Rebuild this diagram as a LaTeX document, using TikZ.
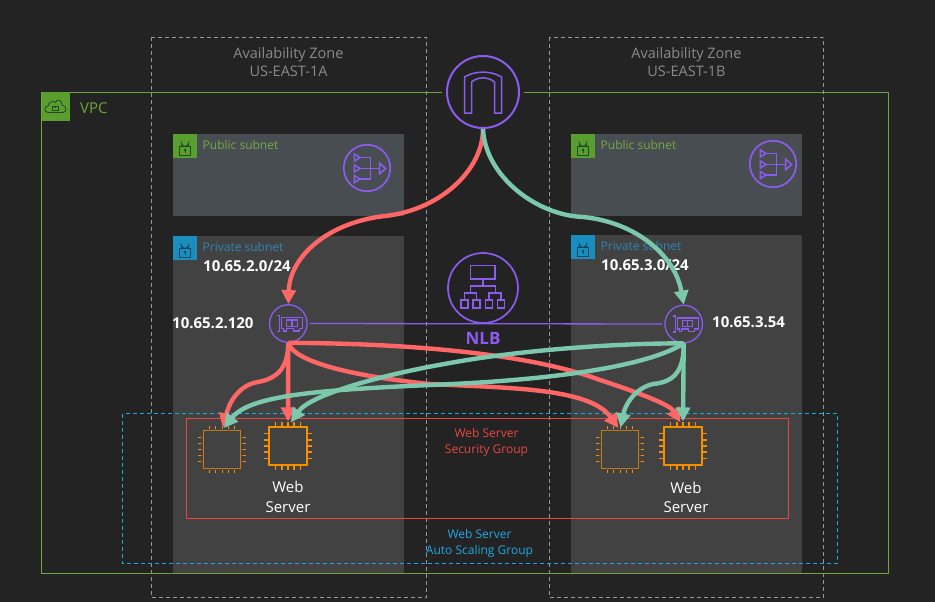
\documentclass[tikz,border=0pt]{standalone}
\usepackage{fontspec}
\setmainfont{Open Sans}
\usetikzlibrary{arrows.meta}

\definecolor{bgdark}{HTML}{232323}
\definecolor{publicfill}{HTML}{474D50}
\definecolor{privatefill}{HTML}{424242}
\definecolor{zonegrey}{HTML}{8A8A8A}
\definecolor{vpcgreen}{HTML}{6EA63C}
\definecolor{badgegreen}{HTML}{5A9E2F}
\definecolor{lockgreen}{HTML}{1F4A24}
\definecolor{publictext}{HTML}{7AA845}
\definecolor{badgeblue}{HTML}{1A8FBF}
\definecolor{lockblue}{HTML}{0E4660}
\definecolor{privatetext}{HTML}{2F86B5}
\definecolor{iconpurple}{HTML}{8C5CF0}
\definecolor{chiporange}{HTML}{F58F00}
\definecolor{chippurple}{HTML}{5A5A94}
\definecolor{sgred}{HTML}{E8473F}
\definecolor{asgblue}{HTML}{1FA9E4}
\definecolor{flowred}{HTML}{FF6666}
\definecolor{flowgreen}{HTML}{7CC8AC}

\tikzset{
  zonebox/.style = {draw = zonegrey!90!white, dashed, line width = .7pt, dash pattern = on 4pt off 3pt},
  ring/.style = {circle, draw = iconpurple, line width = 1.7pt, inner sep = 0, fill = none},
  iconline/.style = {draw = iconpurple, line width = 1.5pt, line join = miter},
  chipbox/.style = {rectangle, draw = chiporange, inner sep = 0, minimum size = 37.4pt},
  flow/.style = {line width = 4.4pt, -{Triangle[length = 14pt, width = 14pt]}, shorten > = 5pt},
  redflow/.style = {flow, draw = flowred, color = flowred},
  greenflow/.style = {flow, draw = flowgreen, color = flowgreen},
  iplabel/.style = {white, font = \fontsize{15}{18}\selectfont\bfseries, inner sep = 0},
  pics/padlock/.style = {code = {
    \draw[#1, line width = .8pt] (-5.5, 2.5) rectangle (5.5, 11);
    \draw[#1, line width = .8pt] (-3.8, 2.5) -- (-3.8, -1.5) arc [start angle = 180, end angle = 0, radius = 3.8] -- (3.8, 2.5);
    \filldraw[#1] (0, 6) circle [radius = 1];
    \draw[#1, line width = .8pt] (0, 6) -- (0, 9);
  }},
  pics/chippins/.style = {code = {
    \foreach \p in {-12.4, -6.2, 0, 6.2, 12.4} {
      \draw[#1] (\p, -18.7) -- (\p, -23.7);
      \draw[#1] (\p, 18.7) -- (\p, 23.7);
      \draw[#1] (-18.7, \p) -- (-23.7, \p);
      \draw[#1] (18.7, \p) -- (23.7, \p);
    }
  }},
  pics/natgate/.style = {code = {
    \foreach \t in {-10.5, .5, 11} {
      \draw[iconline] (-12.7, \t - 3.6) -- (-7, \t) -- (-12.7, \t + 3.6) -- cycle;
      \draw[iconline] (-7, \t) -- (3.7, \t);
    }
    \draw[iconline] (3.7, -10.5) -- (3.7, 11);
    \draw[iconline] (3.7, .5) -- (12.5, .5);
    \draw[iconline] (12.5, -5) -- (18.7, .5) -- (12.5, 6) -- cycle;
  }},
  pics/enicard/.style = {code = {
    \draw[iconline, line width = 1.1pt] (-11, -8) -- (-8.6, -8) -- (-8.6, 8) -- (-11, 8);
    \draw[iconline, line width = 1.1pt] (-6.6, -6) -- (14.4, -6) -- (14.4, 5) -- (11, 5) -- (11, 7.5) -- (5, 7.5) -- (5, 5) -- (-2, 5) -- (-2, 7.5) -- (-4.5, 7.5) -- (-4.5, 5) -- (-6.6, 5) -- cycle;
    \draw[iconline, line width = 1.1pt] (-1.6, -3.5) rectangle (9, 2.6);
    \draw[iconline, line width = 1.1pt] (3.7, -3.5) -- (3.7, 2.6);
  }}
}

\begin{document}
\begin{tikzpicture}[x = 1pt, y = -1pt]
 \useasboundingbox (0, 0) rectangle (935, 602);
 \fill[bgdark] (0, 0) rectangle (935, 602);

 % subnets
 \fill[publicfill] (173, 134) rectangle (404, 216);
 \fill[publicfill] (571, 134) rectangle (802, 216);
 \fill[privatefill] (173, 236) rectangle (404, 573);
 \fill[privatefill] (571, 235) rectangle (802, 573);

 % zones and vpc
 \draw[zonebox] (151.5, 37.5) rectangle (426.5, 597);
 \draw[zonebox] (549.5, 37.5) rectangle (823.5, 597);
 \draw[vpcgreen, line width = .8pt] (41.5, 92.5) rectangle (888, 573.5);
 \node[zonegrey, align = center, font = \fontsize{14.5}{18}\selectfont] (zoneA) at (288.5, 62) {Availability Zone\\US-EAST-1A};
 \node[zonegrey, align = center, font = \fontsize{14.5}{18}\selectfont] (zoneB) at (686.5, 62) {Availability Zone\\US-EAST-1B};

 % badges
 \fill[badgegreen] (41.5, 92.5) rectangle (70, 121);
 \draw[lockgreen, line width = .8pt] (48, 112.5) .. controls (43.5, 112.5) and (44, 106) .. (48.5, 105.5) .. controls (48.5, 102) and (53, 100.5) .. (55.5, 102.5) .. controls (57, 98) and (62, 100) .. (62, 105) .. controls (67, 105.5) and (67, 112.5) .. (63, 112.5) -- cycle;
 \draw[lockgreen, line width = .7pt] (52.5, 106) rectangle (58, 110.5);
 \draw[lockgreen, line width = .7pt] (53.5, 106) arc [start angle = 180, end angle = 0, radius = 1.7];
 \node[vpcgreen, font = \fontsize{15}{18}\selectfont, anchor = west, inner sep = 0] (vpcname) at (80, 108) {VPC};

 \fill[badgegreen] (173, 134) rectangle (197, 158);
 \pic at (185, 144) {padlock = lockgreen};
 \fill[badgegreen] (571, 134) rectangle (595, 158);
 \pic at (583, 144) {padlock = lockgreen};
 \fill[badgeblue] (173, 236) rectangle (197, 260);
 \pic at (185, 246) {padlock = lockblue};
 \fill[badgeblue] (571, 235) rectangle (595, 259);
 \pic at (583, 245) {padlock = lockblue};

 \node[publictext, font = \fontsize{12}{14}\selectfont, anchor = west, inner sep = 0] (pubA) at (202.5, 145) {Public subnet};
 \node[publictext, font = \fontsize{12}{14}\selectfont, anchor = west, inner sep = 0] (pubB) at (600.5, 145) {Public subnet};
 \node[privatetext, font = \fontsize{12}{14}\selectfont, anchor = west, inner sep = 0] (privA) at (202.5, 247) {Private subnet};
 \node[privatetext, font = \fontsize{12}{14}\selectfont, anchor = west, inner sep = 0] (privB) at (600.5, 246) {Private subnet};

 % nat gateways
 \node[ring, minimum size = 46.5pt] (natA) at (367, 168) {};
 \pic at (367, 168) {natgate};
 \node[ring, minimum size = 46.5pt] (natB) at (773, 164) {};
 \pic at (773, 164) {natgate};

 % address labels
 \node[iplabel, anchor = west] (cidrA) at (203, 266) {10.65.2.0/24};
 \node[iplabel, anchor = west] (cidrB) at (601, 265.5) {10.65.3.0/24};
 \node[iplabel, anchor = west] (addrA) at (172, 323) {10.65.2.120};
 \node[iplabel, anchor = west] (addrB) at (712, 322) {10.65.3.54};

 % groups
 \draw[asgblue, line width = .7pt, dash pattern = on 4pt off 3pt] (122.5, 413.5) rectangle (837.5, 563);
 \draw[sgred, line width = .8pt] (186.5, 418.5) rectangle (788.5, 518.5);
 \node[sgred, align = center, font = \fontsize{12}{16}\selectfont] (sgname) at (486.5, 442) {Web Server\\Security Group};
 \node[asgblue, align = center, font = \fontsize{12}{16}\selectfont] (asgname) at (479.5, 543) {Web Server\\Auto Scaling Group};

 % internet gateway
 \fill[bgdark] (483, 92) circle [radius = 41];
 \node[ring, line width = 2pt, minimum size = 72pt] (igw) at (483, 92) {};
 \draw[iconline] (464.5, 113) -- (464.5, 77) .. controls (475, 70.5) and (491, 70.5) .. (501.5, 77) -- (501.5, 113) -- (494.5, 113) -- (494.5, 82) .. controls (488, 76.5) and (478, 76.5) .. (471.5, 82) -- (471.5, 113) -- cycle;

 % load balancer
 \node[ring, minimum size = 70pt] (nlb) at (483, 288) {};
 \draw[iconline] (470.7, 265.7) rectangle (495, 279);
 \draw[iconline] (483, 279) -- (483, 286);
 \draw[iconline] (470.5, 293) -- (470.5, 286) -- (495.5, 286) -- (495.5, 293);
 \draw[iconline] (464.5, 300) -- (464.5, 293) -- (476.5, 293) -- (476.5, 300);
 \draw[iconline] (489, 300) -- (489, 293) -- (501, 293) -- (501, 300);
 \foreach \b in {464.5, 476.5, 489, 501} {
  \draw[iconline] (\b - 3.7, 300) rectangle (\b + 3.7, 308);
 }
 \node[iconpurple, font = \fontsize{17}{20}\selectfont\bfseries] (nlbname) at (483, 338) {NLB};

 % network interfaces
 \node[ring, line width = 1.3pt, minimum size = 37.5pt] (eniA) at (288.3, 323.5) {};
 \pic at (288.3, 323.5) {enicard};
 \node[ring, line width = 1.3pt, minimum size = 37.5pt] (eniB) at (683.7, 324) {};
 \pic at (683.7, 324) {enicard};
 \draw[iconpurple, line width = 1.3pt, shorten < = 2pt, shorten > = 2pt] (eniA) -- (eniB);

 % instances
 \node[chipbox, line width = 1.7pt] (webA) at (288, 446) {};
 \pic at (288, 446) {chippins = {chiporange, line width = 1.7pt}};
 \node[chipbox, line width = 1.7pt] (webB) at (683, 446) {};
 \pic at (683, 446) {chippins = {chiporange, line width = 1.7pt}};
 \node[chipbox, line width = .9pt, draw = chiporange!85!black] (spareA) at (222, 449.5) {};
 \pic at (222, 449.5) {chippins = {chiporange, line width = .9pt}};
 \pic at (222, 449.5) {chippins = {chippurple, line width = .9pt, dash pattern = on 2pt off 3pt}};
 \node[chipbox, line width = .9pt, draw = chiporange!85!black] (spareB) at (620, 449.5) {};
 \pic at (620, 449.5) {chippins = {chiporange, line width = .9pt}};
 \pic at (620, 449.5) {chippins = {chippurple, line width = .9pt, dash pattern = on 2pt off 3pt}};
 \node[white, align = center, font = \fontsize{15}{19.5}\selectfont] (webnameA) at (288, 497) {Web\\Server};
 \node[white, align = center, font = \fontsize{15}{19.5}\selectfont] (webnameB) at (686, 497.5) {Web\\Server};

 % red flows
 \coordinate (redvia) at (385, 216);
 \draw[redflow, shorten > = 0pt] (igw.south) .. controls (483, 170) and (440, 210) .. (redvia) .. controls (330, 222) and (290, 255) .. (eniA.north);
 \coordinate (redviaA) at (258, 382);
 \draw[redflow, shorten > = 3pt] (eniA.south) .. controls (288, 365) and (280, 378) .. (redviaA) .. controls (240, 385) and (230, 400) .. (spareA.north);
 \draw[redflow] (eniA.south) -- (webA.north);
 \coordinate (redviaB) at (430, 384);
 \draw[redflow, shorten > = 3pt] (eniA.south) .. controls (295, 365) and (370, 378) .. (redviaB) .. controls (510, 388) and (590, 388) .. (spareB.north);
 \coordinate (redviaC) at (600, 380);
 \draw[redflow] (eniA.south) .. controls (380, 343) and (520, 350) .. (redviaC) .. controls (640, 393) and (670, 405) .. (webB.north);

 % green flows
 \coordinate (greenvia) at (583, 217);
 \draw[greenflow, shorten > = 0pt] (igw.south) .. controls (485, 175) and (535, 215) .. (greenvia) .. controls (635, 222) and (675, 255) .. (eniB.north);
 \draw[greenflow] (eniB.south) -- (webB.north);
 \coordinate (greenviaA) at (653, 384);
 \draw[greenflow, shorten > = 3pt] (eniB.south) .. controls (684, 370) and (675, 382) .. (greenviaA) .. controls (635, 388) and (625, 405) .. (spareB.north);
 \coordinate (greenviaB) at (450, 363);
 \draw[greenflow] (eniB.south) .. controls (620, 343) and (520, 350) .. (greenviaB) .. controls (380, 375) and (310, 395) .. (webA.north);
 \coordinate (greenviaC) at (430, 385);
 \draw[greenflow, shorten > = 3pt] (eniB.south) .. controls (650, 365) and (560, 380) .. (greenviaC) .. controls (320, 390) and (250, 395) .. (spareA.north);
\end{tikzpicture}
\end{document}
